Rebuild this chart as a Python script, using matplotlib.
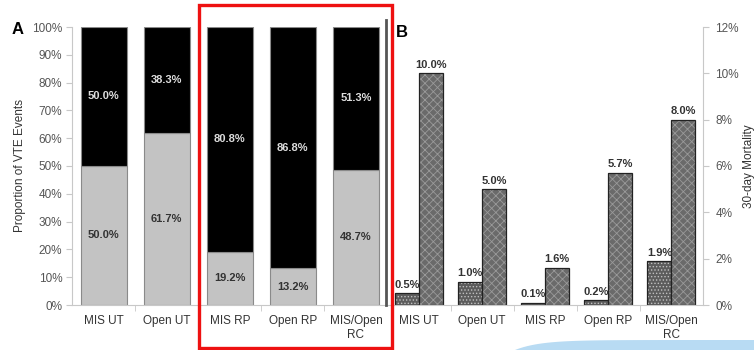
import numpy as np
import matplotlib.pyplot as plt
from matplotlib.patches import Rectangle, Polygon
from matplotlib.lines import Line2D

plt.rcParams['font.family'] = ['Liberation Sans', 'DejaVu Sans']
plt.rcParams['hatch.linewidth'] = 0.6

# procedures
procedures = ['MIS UT', 'Open UT', 'MIS RP', 'Open RP', 'MIS/Open\nRC']

# panel A: share of VTE events (bottom grey, top black)
vte_lower = [50.0, 61.7, 19.2, 13.2, 48.7]
vte_upper = [50.0, 38.3, 80.8, 86.8, 51.3]

# panel B: 30-day mortality
mort_dotted = [0.5, 1.0, 0.1, 0.2, 1.9]
mort_grey = [10.0, 5.0, 1.6, 5.7, 8.0]

W, H = 754, 350
fig = plt.figure(figsize=(W / 100, H / 100), dpi=100)

axis_col = '#c8c8c8'
tick_col = '#555555'

def px(x0, y0, x1, y1):
    return [x0 / W, 1 - y1 / H, (x1 - x0) / W, (y1 - y0) / H]

# ---- panel A: stacked bars
axA = fig.add_axes(px(72, 27, 387.5, 305))
x = np.arange(len(procedures))
bw = 0.73
axA.bar(x, vte_lower, width=bw, color='#c3c3c3', edgecolor='#8a8a8a', linewidth=0.8)
axA.bar(x, vte_upper, width=bw, bottom=vte_lower, color='black', edgecolor='#8a8a8a', linewidth=0.8)
for i in range(len(x)):
    axA.text(x[i], vte_lower[i] / 2, f'{vte_lower[i]:.1f}%', ha='center', va='center',
             fontsize=8, fontweight='bold', color='#333333')
    axA.text(x[i], vte_lower[i] + vte_upper[i] / 2, f'{vte_upper[i]:.1f}%', ha='center',
             va='center', fontsize=8, fontweight='bold', color='#dddddd')

axA.set_xlim(-0.5, 4.5)
axA.set_ylim(0, 100)
axA.set_yticks(np.arange(0, 101, 10))
axA.set_yticklabels([f'{v}%' for v in range(0, 101, 10)])
axA.set_xticks(x)
axA.set_xticklabels(procedures)
axA.set_xticks(np.arange(0.5, 4.5, 1), minor=True)
axA.tick_params(axis='x', which='major', length=0, pad=7, labelsize=8.5, labelcolor='#333333')
axA.tick_params(axis='x', which='minor', length=4, color=axis_col)
axA.tick_params(axis='y', length=4, color=axis_col, labelsize=8.5, labelcolor=tick_col, pad=3)
for s in ['top', 'right']:
    axA.spines[s].set_visible(False)
for s in ['left', 'bottom']:
    axA.spines[s].set_color(axis_col)
axA.set_ylabel('Proportion of VTE Events', fontsize=8.5, color='#333333', labelpad=4)

# ---- panel B: grouped bars, axis on the right
axB = fig.add_axes(px(387.5, 27, 703, 305))
bw2 = 0.38
axB.bar(x - bw2 / 2, mort_dotted, width=bw2, color='#5c5c5c', edgecolor='#c0c0c0',
        hatch='.....', linewidth=0)
axB.bar(x - bw2 / 2, mort_dotted, width=bw2, fill=False, edgecolor='#222222', linewidth=0.9)
axB.bar(x + bw2 / 2, mort_grey, width=bw2, color='#6a6a6a', edgecolor='#9a9a9a',
        hatch='xxxx', linewidth=0)
axB.bar(x + bw2 / 2, mort_grey, width=bw2, fill=False, edgecolor='#222222', linewidth=0.9)
for i in range(len(x)):
    axB.text(x[i] - bw2 / 2, mort_dotted[i] + 0.15, f'{mort_dotted[i]:.1f}%', ha='center',
             va='bottom', fontsize=8, fontweight='bold', color='#333333')
    axB.text(x[i] + bw2 / 2, mort_grey[i] + 0.15, f'{mort_grey[i]:.1f}%', ha='center',
             va='bottom', fontsize=8, fontweight='bold', color='#333333')

axB.set_xlim(-0.5, 4.5)
axB.set_ylim(0, 12)
axB.yaxis.tick_right()
axB.yaxis.set_label_position('right')
axB.set_yticks(np.arange(0, 13, 2))
axB.set_yticklabels([f'{v}%' for v in range(0, 13, 2)])
axB.set_xticks(x)
axB.set_xticklabels(procedures)
axB.set_xticks(np.arange(0.5, 4.5, 1), minor=True)
axB.tick_params(axis='x', which='major', length=0, pad=7, labelsize=8.5, labelcolor='#333333')
axB.tick_params(axis='x', which='minor', length=4, color=axis_col)
axB.tick_params(axis='y', length=4, color=axis_col, labelsize=8.5, labelcolor=tick_col, pad=5)
for s in ['top', 'left']:
    axB.spines[s].set_visible(False)
for s in ['right', 'bottom']:
    axB.spines[s].set_color(axis_col)
axB.set_ylabel('30-day Mortality', fontsize=8.5, color='#333333', labelpad=3)

# panel letters
fig.text(12 / W, 1 - 34 / H, 'A', fontsize=12, fontweight='bold', ha='left', va='baseline')
fig.text(396 / W, 1 - 37 / H, 'B', fontsize=12, fontweight='bold', ha='left', va='baseline')

# divider between the panels
fig.add_artist(Line2D([386 / W, 386 / W], [1 - 20 / H, 1 - 305 / H], color='#555555', lw=2))

# decorative swoosh along the bottom
sx = np.linspace(515, 754, 60)
sy = 340 + 10 * np.exp(-(sx - 515) / 25)
pts = [(a / W, 1 - b / H) for a, b in zip(sx, sy)] + [(1, 0), (515 / W, 0)]
fig.add_artist(Polygon(pts, closed=True, transform=fig.transFigure,
                       facecolor='#b8dbf3', edgecolor='none'))

# red highlight box
fig.add_artist(Rectangle((199 / W, 1 - 348 / H), (392 - 199) / W, (348 - 5) / H,
                         transform=fig.transFigure, fill=False, edgecolor='#ee1111', lw=2.4))

fig.savefig('out.png', dpi=100)
